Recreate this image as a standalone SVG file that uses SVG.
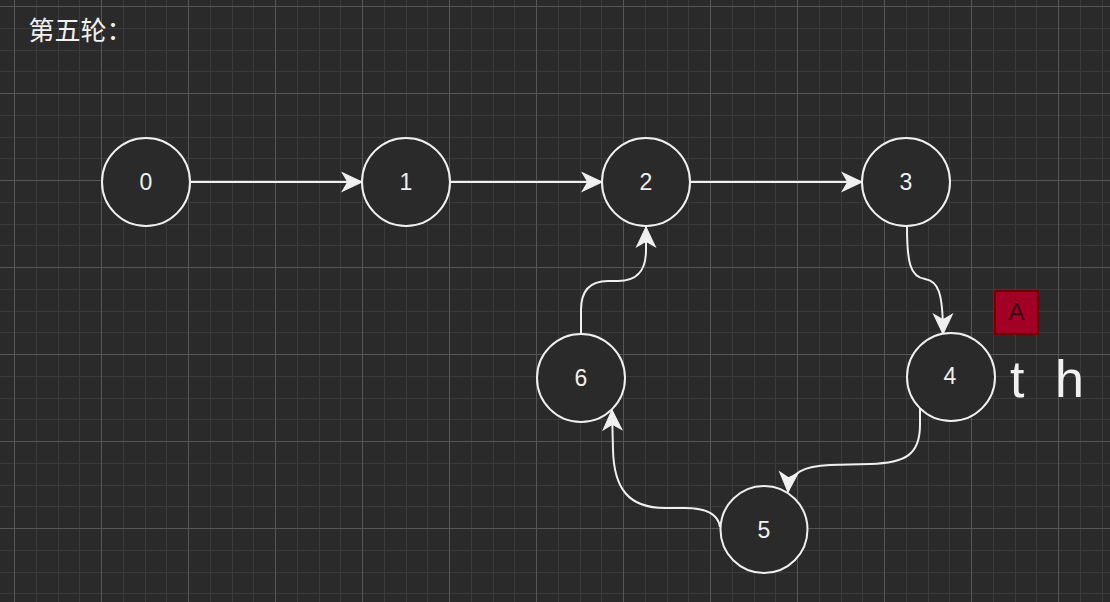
<svg xmlns="http://www.w3.org/2000/svg" width="1110" height="602" viewBox="0 0 1110 602">
<defs>
<pattern id="grid" x="14" y="6" width="87" height="87" patternUnits="userSpaceOnUse">
<rect width="87" height="87" fill="#2a2a2a"/>
<rect x="22" y="0" width="1" height="87" fill="#3b3b3b"/>
<rect x="44" y="0" width="1" height="87" fill="#3b3b3b"/>
<rect x="65" y="0" width="1" height="87" fill="#3b3b3b"/>
<rect x="0" y="22" width="87" height="1" fill="#3b3b3b"/>
<rect x="0" y="44" width="87" height="1" fill="#3b3b3b"/>
<rect x="0" y="65" width="87" height="1" fill="#3b3b3b"/>
<rect x="0" y="0" width="1" height="87" fill="#565656"/>
<rect x="0" y="0" width="87" height="1" fill="#565656"/>
</pattern>
<marker id="arr" markerUnits="userSpaceOnUse" markerWidth="24" markerHeight="24" viewBox="-20 -10 22 20" refX="0" refY="0" orient="auto">
<path d="M0,0 L-18,-8.5 L-13,0 L-18,8.5 Z" fill="#f0f0f0" stroke="#f0f0f0" stroke-width="1" stroke-linejoin="miter"/>
</marker>
<style>
.node circle{fill:#2a2a2a;stroke:#f0f0f0;stroke-width:2}
.node text{fill:#f0f0f0;font-family:"Liberation Sans",Arial,sans-serif;font-size:23px;text-anchor:middle}
.edge{fill:none;stroke:#f0f0f0;stroke-width:2;marker-end:url(#arr)}
.big{fill:#f0f0f0;font-family:"Liberation Sans",Arial,sans-serif;font-size:52px}
</style>
</defs>
<rect width="1110" height="602" fill="url(#grid)"/>
<text x="28.5" y="40" fill="#f0f0f0" font-family="'Noto Sans CJK SC','Noto Sans CJK JP',sans-serif" font-size="26">第五轮：</text>
<g id="connectors">
<path class="edge" d="M190,182 L362,182"/>
<path class="edge" d="M450,182 L602,182"/>
<path class="edge" d="M690,182 L862,182"/>
<path class="edge" d="M907,226 C907,262 910,277 925,279 C938,281 943,292 943,334"/>
<path class="edge" d="M920,408 L920,425 C920,455 905,463 870,464 L830,465 C805,466 789,472 788,492"/>
<path class="edge" d="M720,527 C718,513 705,508 685,508 L665,508 C628,508 614,488 613,450 L612,410"/>
<path class="edge" d="M581,334 L581,310 C581,290 590,281 608,281 L618,281 C638,281 646,270 646,250 L646,227"/>
</g>
<g id="node0" class="node"><circle cx="146" cy="182" r="44"/><text x="146" y="190">0</text></g>
<g id="node1" class="node"><circle cx="406" cy="182" r="44"/><text x="406" y="190">1</text></g>
<g id="node2" class="node"><circle cx="646" cy="182" r="44"/><text x="646" y="190">2</text></g>
<g id="node3" class="node"><circle cx="906" cy="182" r="44"/><text x="906" y="190">3</text></g>
<g id="node4" class="node"><circle cx="951" cy="377" r="44"/><text x="950" y="383.5">4</text></g>
<g id="node5" class="node"><circle cx="764" cy="529.5" r="43.5"/><text x="764" y="537.5">5</text></g>
<g id="node6" class="node"><circle cx="581" cy="378" r="44"/><text x="581" y="386">6</text></g>
<g id="nodeA">
<rect x="995" y="291" width="43" height="43" fill="#a20025" stroke="#6f0000" stroke-width="2"/>
<text x="1016.5" y="320" fill="#3a0010" font-family="'Liberation Sans',Arial,sans-serif" font-size="24" text-anchor="middle">A</text>
</g>
<g id="label-t"><text class="big" x="1010" y="397">t</text></g>
<g id="label-h"><text class="big" x="1055" y="397">h</text></g>
</svg>
